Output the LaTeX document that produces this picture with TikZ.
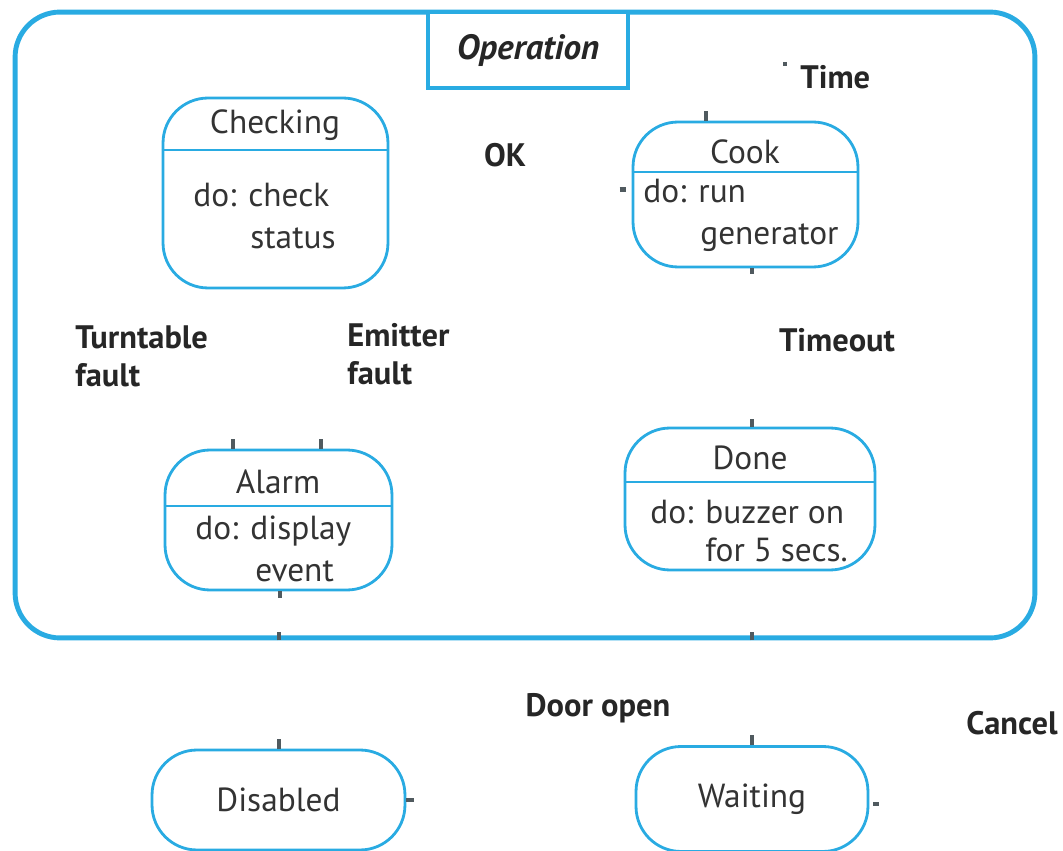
\documentclass[tikz,border=0pt]{standalone}
\usepackage{fontspec}
\setmainfont{PT Sans}
\usetikzlibrary{positioning,calc}
\definecolor{statecyan}{RGB}{41,171,226}
\definecolor{stubgray}{RGB}{80,90,95}

\begin{document}
\begin{tikzpicture}[x=0.02cm, y=-0.02cm,
    state/.style={draw=statecyan, line width=1.6pt, rounded corners=0.9cm, inner sep=0pt},
    divider/.style={draw=statecyan, line width=1pt},
    stitle/.style={font=\fontsize{19}{24}\selectfont, text=black!80},
    body/.style={font=\fontsize{19}{24}\selectfont, text=black!80, align=left, anchor=west, inner sep=0pt},
    evlabel/.style={font=\fontsize{18.5}{21.5}\selectfont\bfseries, text=black!85, align=left, inner sep=0pt},
    stub/.style={draw=stubgray, line width=2.5pt}]
    \useasboundingbox (0,0) rectangle (1063,851);

    % Operation superstate
    \node[state, line width=2.8pt, minimum width=20.4cm, minimum height=12.52cm] (Operation) at (525,325) {};
    \node[draw=statecyan, line width=2pt, fill=white, minimum width=4cm, minimum height=1.52cm,
          font=\fontsize{20}{22}\selectfont\bfseries\itshape, text=black!85] (OpTab) at (528,50) {Operation};

    % Checking
    \node[state, minimum width=4.5cm, minimum height=3.8cm] (Checking) at (275.5,193) {};
    \node[stitle] (CheckingT) at (275,125) {Checking};
    \draw[divider] (Checking.west |- 0,150) -- (Checking.east |- 0,150);
    \node[body] (CheckingB) at (193,216) {do: check\\\hspace*{1.14cm}status};

    % Cook
    \node[state, minimum width=4.5cm, minimum height=2.9cm] (Cook) at (745.5,194.5) {};
    \node[stitle] (CookT) at (745,152) {Cook};
    \draw[divider] (Cook.west |- 0,172) -- (Cook.east |- 0,172);
    \node[body] (CookB) at (643,215) {do: run\\\hspace*{1.14cm}generator};

    % Alarm
    \node[state, minimum width=4.54cm, minimum height=2.8cm] (Alarm) at (278.5,520) {};
    \node[stitle] (AlarmT) at (278,482) {Alarm};
    \draw[divider] (Alarm.west |- 0,506) -- (Alarm.east |- 0,506);
    \node[body] (AlarmB) at (195,549) {do: display\\\hspace*{1.2cm}event};

    % Done
    \node[state, minimum width=5cm, minimum height=2.84cm] (Done) at (750,499) {};
    \node[stitle] (DoneT) at (750,458) {Done};
    \draw[divider] (Done.west |- 0,482) -- (Done.east |- 0,482);
    \node[body, font=\fontsize{19}{21.6}\selectfont] (DoneB) at (650,531) {do: buzzer on\\\hspace*{1.1cm}for 5 secs.};

    % Disabled and Waiting
    \node[state, minimum width=5.06cm, minimum height=2cm, stitle] (Disabled) at (278.5,800) {Disabled};
    \node[state, minimum width=4.64cm, minimum height=2.1cm, stitle] (Waiting) at (752,799) {Waiting};

    % event labels
    \node[evlabel, anchor=west] (TimeL) at (800,77) {Time};
    \node[evlabel] (OKL) at (505,155) {OK};
    \node[evlabel, anchor=west] (TurnL) at (75,356) {Turntable\\fault};
    \node[evlabel, anchor=west] (EmitL) at (347,354) {Emitter\\fault};
    \node[evlabel] (TimeoutL) at (837,340) {Timeout};
    \node[evlabel] (DoorL) at (598,708) {Door open};
    \node[evlabel, anchor=east] (CancelL) at (1058,723) {Cancel};

    % transition stubs
    \draw[stub] (TimeL.west) ++(-15,-15) coordinate (tdot) -- ++(0,4);
    \draw[stub] (Cook.north -| 706,0) -- ++(0,-10);
    \draw[stub] (Cook.west) ++(-12,-5) coordinate (cin) -- ++(6,0);
    \draw[stub] (Cook.south -| 752,0) -- ++(0,6);
    \draw[stub] (Done.north -| 752,0) -- ++(0,-8);
    \draw[stub] (Alarm.north -| 233,0) -- ++(0,-10);
    \draw[stub] (Alarm.north -| 321,0) -- ++(0,-10);
    \draw[stub] (Alarm.south -| 280,0) -- ++(0,7);
    \draw[stub] (Operation.south -| 279,0) -- ++(0,-8);
    \draw[stub] (Operation.south -| 752,0) -- ++(0,-8);
    \draw[stub] (Disabled.north -| 279,0) -- ++(0,-10);
    \draw[stub] (Disabled.east) -- ++(8,0);
    \draw[stub] (Waiting.north -| 752,0) -- ++(0,-10);
    \draw[stub] (Waiting.east) ++(4,5) coordinate (wout) -- ++(6,0);
\end{tikzpicture}
\end{document}
